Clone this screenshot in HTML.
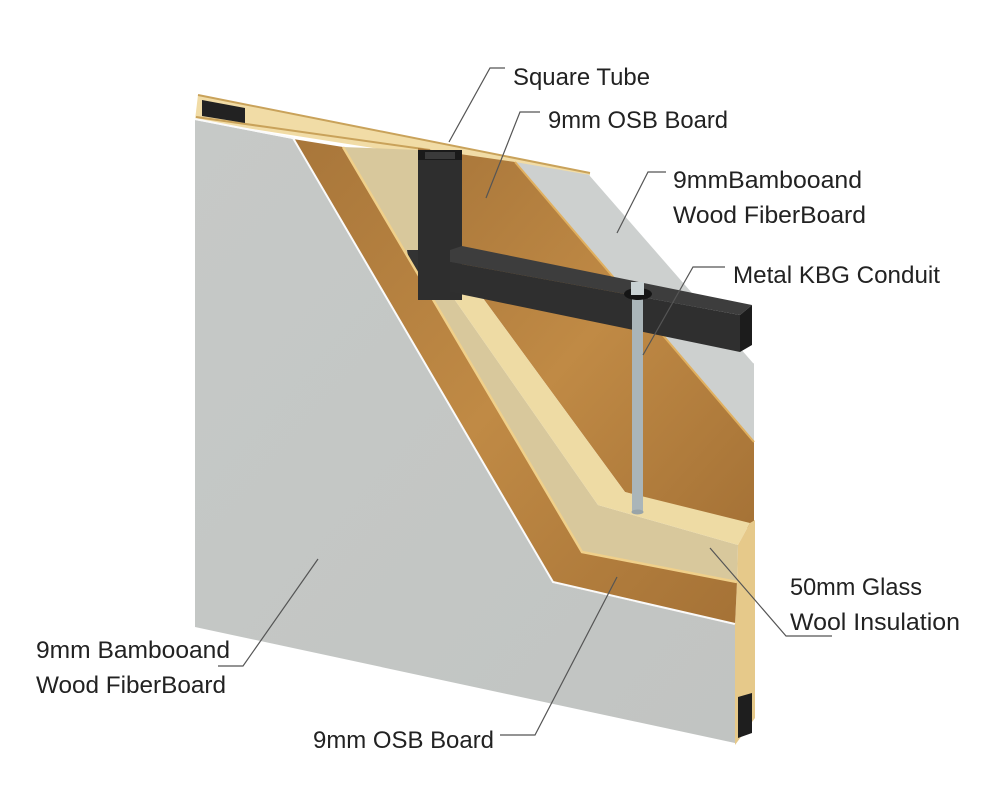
<!DOCTYPE html>
<html><head><meta charset="utf-8"><style>
html,body{margin:0;padding:0;background:#fff;}
svg{display:block;}
text{font-family:"Liberation Sans",sans-serif;fill:#222;font-size:24px;}
</style></head><body>
<svg width="1000" height="799" viewBox="0 0 1000 799" xmlns="http://www.w3.org/2000/svg">
<defs>
<linearGradient id="wood" x1="0" y1="0" x2="1" y2="1">
<stop offset="0" stop-color="#a8763a"/><stop offset="0.5" stop-color="#c08a45"/><stop offset="1" stop-color="#a57236"/>
</linearGradient>
<linearGradient id="gray" x1="0" y1="0" x2="1" y2="1">
<stop offset="0" stop-color="#c6c9c7"/><stop offset="1" stop-color="#c1c4c2"/>
</linearGradient>
</defs>
<rect width="1000" height="799" fill="#fff"/>
<!-- top strip -->
<polygon points="198,95 590,173 590,182 195,120" fill="#f1dca6"/>
<line x1="198" y1="95" x2="590" y2="173" stroke="#c9a25a" stroke-width="2"/>
<line x1="196" y1="117" x2="430" y2="150" stroke="#c9a25a" stroke-width="2"/>
<polygon points="202,100 245,108 245,123 202,116" fill="#222"/>
<!-- back wood -->
<polygon points="418,148 515,162 754,440 754,530 625,492 477,290 418,300" fill="url(#wood)"/>
<!-- back gray board -->
<polygon points="515,162 590,175 754,363 754,442" fill="#cdd0cf"/>
<line x1="515" y1="162" x2="754" y2="442" stroke="#e0b060" stroke-width="2"/>
<line x1="590" y1="175" x2="754" y2="363" stroke="#fff" stroke-width="1.5"/>
<!-- beige insulation front face -->
<polygon points="343,147 418,150 418,300 450,293 598,505 738,545 737,582 582,552" fill="#d8c89c"/>
<polygon points="407,250 420,250 420,323" fill="#333"/>
<!-- light stud band -->
<polygon points="450,293 477,290 625,492 750,523 738,545 598,505" fill="#eedba4"/>
<!-- right side strip -->
<polygon points="737,582 738,545 750,523 755,520 755,718 735,745 735,625" fill="#e6c98a"/>
<polygon points="738,697 752,693 752,733 738,738" fill="#1e1e1e"/>
<!-- front OSB -->
<polygon points="293,139 343,147 582,552 737,582 735,625 553,583" fill="url(#wood)"/>
<polyline points="343,147 582,552 737,582" fill="none" stroke="#f0d08a" stroke-width="2.5"/>
<!-- front gray -->
<polygon points="195,120 293,139 553,583 735,625 735,743 195,627" fill="url(#gray)"/>
<polyline points="195,119 293,138 553,582 735,624" fill="none" stroke="#fafafa" stroke-width="2"/>
<!-- vertical tube -->
<rect x="418" y="150" width="44" height="150" fill="#2e2e2e"/>
<polygon points="418,150 462,150 462,160 418,160" fill="#1a1a1a"/>
<rect x="425" y="152" width="30" height="7" fill="#3a3a3a"/>
<!-- horizontal tube -->
<polygon points="450,250 462,246 752,305 740,315 450,262" fill="#3d3d3d"/>
<polygon points="450,262 740,315 740,352 450,292" fill="#2f2f2f"/>
<polygon points="740,315 752,305 752,345 740,352" fill="#1c1c1c"/>
<!-- conduit -->
<rect x="632" y="290" width="11" height="222" fill="#aab5b9"/>
<ellipse cx="638" cy="294" rx="14" ry="6" fill="#151515"/>
<rect x="631" y="282" width="13" height="13" fill="#c9d2d4"/>
<ellipse cx="637.5" cy="512" rx="6" ry="2.5" fill="#99a4a8"/>
<!-- leader lines -->
<g stroke="#555" stroke-width="1.2" fill="none">
<polyline points="449,142 490,68 505,68"/>
<polyline points="486,198 520,112 540,112"/>
<polyline points="617,233 648,172 666,172"/>
<polyline points="643,355 693,267 725,267"/>
<polyline points="710,548 786,636 832,636"/>
<polyline points="318,559 243,666 218,666"/>
<polyline points="617,577 535,735 500,735"/>
</g>
<!-- labels -->
<text x="513" y="85" textLength="137" lengthAdjust="spacingAndGlyphs">Square Tube</text>
<text x="548" y="128" textLength="180" lengthAdjust="spacingAndGlyphs">9mm OSB Board</text>
<text x="673" y="188" textLength="189" lengthAdjust="spacingAndGlyphs">9mmBambooand</text>
<text x="673" y="223" textLength="193" lengthAdjust="spacingAndGlyphs">Wood FiberBoard</text>
<text x="733" y="283" textLength="207" lengthAdjust="spacingAndGlyphs">Metal KBG Conduit</text>
<text x="790" y="595" textLength="132" lengthAdjust="spacingAndGlyphs">50mm Glass</text>
<text x="790" y="630" textLength="170" lengthAdjust="spacingAndGlyphs">Wool Insulation</text>
<text x="36" y="658" textLength="194" lengthAdjust="spacingAndGlyphs">9mm Bambooand</text>
<text x="36" y="693" textLength="190" lengthAdjust="spacingAndGlyphs">Wood FiberBoard</text>
<text x="313" y="748" textLength="181" lengthAdjust="spacingAndGlyphs">9mm OSB Board</text>
</svg>
</body></html>
